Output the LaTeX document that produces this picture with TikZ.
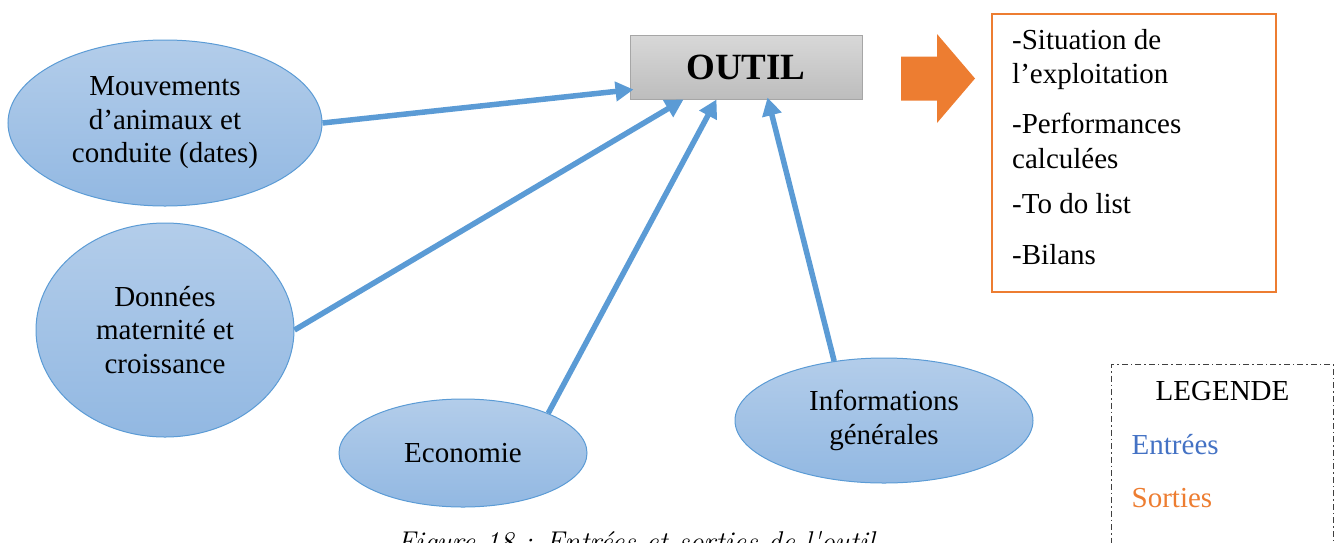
\documentclass[tikz,border=0pt]{standalone}
\usepackage{fontspec}
\newfontfamily\tnr{Liberation Serif}
\usetikzlibrary{shapes.geometric,arrows.meta,calc}
\definecolor{inblue}{HTML}{5B9BD5}
\definecolor{bubtop}{HTML}{B3CDEA}
\definecolor{bubbot}{HTML}{92B8E2}
\definecolor{outorange}{HTML}{ED7D31}
\definecolor{legblue}{HTML}{4472C4}
\definecolor{outiltop}{HTML}{D8D8D8}
\definecolor{outilbot}{HTML}{BDBDBD}
\definecolor{outilframe}{HTML}{A6A6A6}
\definecolor{legframe}{HTML}{404040}
\begin{document}
\begin{tikzpicture}[x=1pt,y=-1pt,
  bubble/.style={ellipse, draw=inblue, line width=1pt, top color=bubtop,
    bottom color=bubbot, inner sep=0pt, align=center,
    font=\tnr\fontsize{29}{33.5}\selectfont},
  feed/.style={draw=inblue, line width=5.5pt,
    -{Triangle[length=18pt,width=19pt]}},
  txt/.style={inner sep=0pt, font=\tnr\fontsize{29}{33}\selectfont},
]
\useasboundingbox (0,0) rectangle (1341,542);

% central tool box
\node[draw=outilframe, line width=1pt, top color=outiltop, bottom color=outilbot,
      minimum width=232, minimum height=64, inner sep=0pt,
      font=\tnr\bfseries\fontsize{37}{40}\selectfont] (outil) at (746,67) {OUTIL};

% inputs
\node[bubble, minimum width=314, minimum height=166] (mouv) at (165,123)
  {Mouvements\\d’animaux et\\conduite (dates)};
\node[bubble, minimum width=258, minimum height=214] (donnees) at (165,330)
  {Données\\maternité et\\croissance};
\node[bubble, minimum width=248, minimum height=108] (eco) at (463,453)
  {Economie};
\node[bubble, minimum width=298, minimum height=125] (info) at (884,420.5)
  {Informations\\générales};

\draw[feed] (mouv.east) -- ([xshift=4pt,yshift=10pt]outil.south west);
\draw[feed] (donnees.east) -- ([xshift=54pt]outil.south west);
\draw[feed] (eco.25) -- ([xshift=87pt]outil.south west);
\draw[feed] (info.130) -- ([xshift=138pt,yshift=2pt]outil.south west);

% output arrow
\fill[outorange] (901,56.5) -- (937,56.5) -- (937,34) -- (975,78.5)
  -- (937,123) -- (937,100.5) -- (901,100.5) -- cycle;

% outputs box
\node[draw=outorange, line width=1.5pt, minimum width=284, minimum height=278,
      inner sep=0pt, anchor=north west] (outbox) at (991,13) {};
\node[txt, anchor=base west] (o1) at (1012,49) {-Situation de};
\node[txt, anchor=base west] (o2) at (1012,83) {l’exploitation};
\node[txt, anchor=base west] (o3) at (1012,133) {-Performances};
\node[txt, anchor=base west] (o4) at (1012,168) {calculées};
\node[txt, anchor=base west] (o5) at (1012,213) {-To do list};
\node[txt, anchor=base west] (o6) at (1012,264) {-Bilans};

% legend
\node[draw=legframe, line width=1.2pt, dash pattern=on 6pt off 3pt on 1.5pt off 3pt,
      minimum width=222, minimum height=220, inner sep=0pt, anchor=north west]
      (legend) at (1111,364) {};
\node[txt, anchor=base] (legtitle) at (1222.5,400.5) {LEGENDE};
\node[txt, anchor=base west, text=legblue] (legin) at (1131.5,454) {Entrées};
\node[txt, anchor=base west, text=outorange] (legout) at (1131.5,507) {Sorties};

% caption
\node[inner sep=0pt, anchor=base west, font=\itshape\fontsize{28.6}{30}\selectfont]
  (caption) at (397,551.5) {Figure 18 : Entrées et sorties de l\textquotesingle outil};
\end{tikzpicture}
\end{document}
